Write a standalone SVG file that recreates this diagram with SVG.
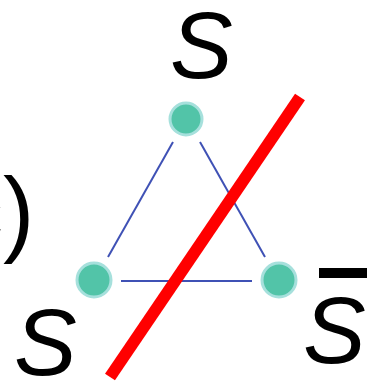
<svg xmlns="http://www.w3.org/2000/svg" width="385" height="382" viewBox="0 0 385 382">
<style>
.lbl{font-family:"Liberation Sans",Arial,sans-serif;font-size:94px;font-style:italic;fill:#000}
.node{fill:#52c4a8;stroke:#a6e0dc;stroke-width:3}
.edge{stroke:#3f51b5;stroke-width:2;fill:none}
</style>
<rect width="385" height="382" fill="#fff"/>
<text class="lbl" x="-44" y="244" style="font-style:normal">c)</text>
<g id="connectors">
<line class="edge" x1="173" y1="142" x2="108" y2="257"/>
<line class="edge" x1="200" y1="142" x2="265" y2="257"/>
<line class="edge" x1="121" y1="281" x2="252" y2="281"/>
</g>
<g id="n-top"><circle class="node" cx="186" cy="119" r="16"/></g>
<g id="n-left"><circle class="node" cx="94" cy="280" r="17"/></g>
<g id="n-right"><circle class="node" cx="279" cy="280" r="17"/></g>
<line x1="300" y1="97" x2="110" y2="377" stroke="#ff0000" stroke-width="12"/>
<text class="lbl" x="170" y="78">S</text>
<text class="lbl" x="14" y="375">S</text>
<text class="lbl" x="303" y="363">S</text>
<rect x="319" y="268" width="48" height="10" fill="#000"/>
</svg>
